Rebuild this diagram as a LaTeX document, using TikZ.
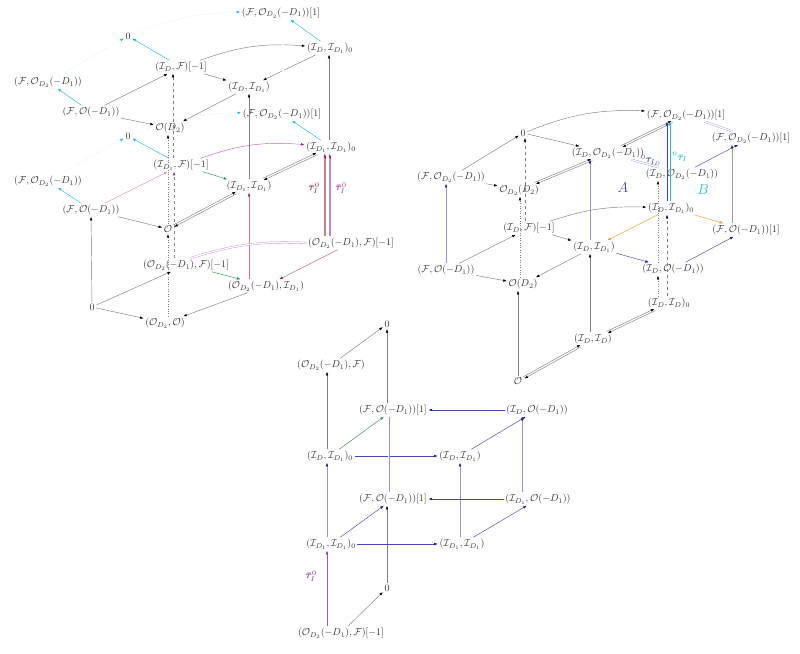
\documentclass[tikz,border=0pt]{standalone}
\usepackage{amsmath,amssymb,bm}
\usetikzlibrary{arrows.meta,calc}
\definecolor{cy}{RGB}{30,190,205}
\definecolor{nv}{RGB}{25,25,140}
\definecolor{bl}{RGB}{70,70,185}
\definecolor{lb}{RGB}{150,150,205}
\definecolor{mr}{RGB}{170,25,45}
\definecolor{pu}{RGB}{150,40,160}
\definecolor{pk}{RGB}{235,140,170}
\definecolor{gn}{RGB}{40,150,80}
\definecolor{og}{RGB}{245,150,50}
\newcommand{\Fc}{\mathcal{F}}
\newcommand{\Oc}{\mathcal{O}}
\newcommand{\Ic}{\mathcal{I}}
\tikzset{
  ob/.style={text=black!80, inner sep=1.5pt},
  ar/.style 2 args={draw=#1, line width=.45pt, -{Latex[length=3.6pt,width=2.6pt,color=#2]}},
  gar/.style={ar={black!50}{black}},
  car/.style={ar={cy}{cy}},
  cdot/.style={ar={cy!45}{cy}, dotted},
  pair/.style={transform canvas={shift={#1}}},
  dbl/.style={draw=#1, double=white, double distance=1.3pt, line width=.35pt},
  thinl/.style={draw=#1, line width=.35pt},
}
\begin{document}
\begin{tikzpicture}[x=1pt,y=-1pt]
\useasboundingbox (0,0) rectangle (800,653);

% ---------------- left block ----------------
\node[ob] (L1) at (281,13) {$(\Fc,\Oc_{D_2}(-D_1))[1]$};
\node[ob] (L2) at (128,36) {$0$};
\node[ob] (L3) at (330,48) {$(\Ic_D,\Ic_{D_1})_0$};
\node[ob] (L4) at (181,67) {$(\Ic_D,\Fc)[-1]$};
\node[ob] (L5) at (48,82) {$(\Fc,\Oc_{D_2}(-D_1))$};
\node[ob] (L6) at (249,87) {$(\Ic_D,\Ic_{D_1})$};
\node[ob] (L7) at (91,112) {$(\Fc,\Oc(-D_1))$};
\node[ob] (L8) at (282,114) {$(\Fc,\Oc_{D_2}(-D_1))[1]$};
\node[ob] (L9) at (170,128) {$\Oc(D_2)$};
\node[ob] (L10) at (128,136) {$0$};
\node[ob] (L11) at (331,147) {$(\Ic_{D_1},\Ic_{D_1})_0$};
\node[ob] (L12) at (181,165) {$(\Ic_{D_1},\Fc)[-1]$};
\node[ob] (L13) at (48,181) {$(\Fc,\Oc_{D_2}(-D_1))$};
\node[ob] (L14) at (249,186) {$(\Ic_{D_1},\Ic_{D_1})$};
\node[ob] (L15) at (91,210) {$(\Fc,\Oc(-D_1))$};
\node[ob] (L16) at (168,229) {$\Oc$};
\node[ob] (L17) at (351,243) {$(\Oc_{D_2}(-D_1),\Fc)[-1]$};
\node[ob] (L18) at (186,265) {$(\Oc_{D_2}(-D_1),\Fc)[-1]$};
\node[ob] (L19) at (266,286) {$(\Oc_{D_2}(-D_1),\Ic_{D_1})$};
\node[ob] (L20) at (92,307) {$0$};
\node[ob] (L21) at (165,323) {$(\Oc_{D_2},\Oc)$};
\node[text=mr, inner sep=0pt] (tL1) at (314,188) {$\bm\tau^0_I$};
\node[text=pu, inner sep=0pt] (tL2) at (341,188) {$\bar{\bm\tau}^0_I$};

\draw[cdot] (L2) to[bend left=10] (L1);
\draw[cdot] (L5) -- (L2);
\draw[car] (L4) -- (L2);
\draw[car] (L7) -- (L5);
\draw[car] (L3) -- (L1);
\draw[gar] (L7) -- (L4);
\draw[gar] (L7) -- (L9);
\draw[gar] (L4) -- (L6);
\draw[gar] (L4) to[bend left=12] (L3);
\draw[gar] (L3) -- (L6);
\draw[gar] (L6) -- (L9);
\draw[dbl=cy] ($(L5.south)+(-15,0)$) -- ($(L13.north)+(-15,0)$);
\draw[dbl=cy] ($(L1.south)+(2,0)$) -- ($(L8.north)+(1,0)$);
\draw[dbl=black!55] (L7.south) -- (L15.north);
\draw[gar] (L14.north) -- (L6.south);
\draw[gar] ($(L11.north)+(-2,0)$) -- ($(L11.north |- L3.south)+(-2,0)$);
\draw[gar, dashed] ($(L12.north)+(-8,0)$) -- ($(L12.north |- L4.south)+(-8,0)$);
\draw[gar, dotted] (L16.north) -- (L16.north |- L9.south);
\draw[gar, dotted] (L21.north -| L16) -- (L16.south);
\draw[ar={black!45}{pu}, dashed] ($(L18.north)+(-12,0)$) -- ($(L18.north |- L12.south)+(-12,0)$);

\draw[cdot] (L13) -- (L10);
\draw[cdot] (L10) to[bend left=10] (L8);
\draw[car] (L15) -- (L13);
\draw[car] (L12) -- (L10);
\draw[car] (L11) -- (L8);
\draw[ar={pk}{pk}] (L15) -- (L12);
\draw[gar] (L15) -- (L16);
\draw[ar={pu!70}{pu}] (L12) to[bend left=12] (L11);
\draw[ar={gn}{gn}] (L12) -- (L14);
\draw[gar, pair={(-0.5pt,0.9pt)}] (L16) -- (L14);
\draw[gar, pair={(0.5pt,-0.9pt)}] (L14) -- (L16);
\draw[gar, pair={(-0.5pt,0.9pt)}] (L14) -- (L11);
\draw[gar, pair={(0.5pt,-0.9pt)}] (L11) -- (L14);

\draw[gar] (L20) -- (L15);
\draw[ar={mr!60}{mr}] (L14.south |- L19.north) -- (L14.south);
% the two parallel maps from the lower right corner up to (I_{D_1},I_{D_1})_0
\coordinate (mA) at ($(L11.south)+(-7,0)$);
\coordinate (mB) at ($(L11.south)+(-2,0)$);
\draw[thinl=mr!55] ($(L17.north)+(-27,0)$) -- ($(mA)+(0,2)$);
\draw[thinl=mr!55] ($(L17.north)+(-25.5,0)$) -- ($(mA)+(1.5,2)$);
\draw[ar={mr}{mr}] ($(mA)+(0.75,5)$) -- ($(mA)+(0.75,0)$);
\draw[thinl=pu!55] ($(L17.north)+(-22,0)$) -- ($(mB)+(0,2)$);
\draw[thinl=pu!55] ($(L17.north)+(-20.5,0)$) -- ($(mB)+(1.5,2)$);
\draw[ar={pu}{pu}] ($(mB)+(0.75,5)$) -- ($(mB)+(0.75,0)$);
\draw[ar={mr!70}{mr}] (L17) -- (L19);
\draw[dbl=pu!55] (L17.west) to[bend right=10] ($(L18.north)+(4,0)$);
\draw[gar] (L20) -- (L18);
\draw[gar] (L20) -- (L21);
\draw[ar={gn}{gn}] (L18) -- (L19);
\draw[gar] (L19) -- (L21);

% ---------------- right block ----------------
\node[ob] (R1) at (686,115) {$(\Fc,\Oc_{D_2}(-D_1))[1]$};
\node[ob] (R2) at (523,133) {$0$};
\node[ob] (R3) at (608,153) {$(\Ic_D,\Oc_{D_2}(-D_1))$};
\node[ob] (R4) at (751,138) {$(\Fc,\Oc_{D_2}(-D_1))[1]$};
\node[ob] (R5) at (451,177) {$(\Fc,\Oc_{D_2}(-D_1))$};
\node[ob] (R6) at (682,174) {$(\Ic_D,\Oc_{D_2}(-D_1))$};
\node[ob] (R7) at (519,190) {$\Oc_{D_2}(D_2)$};
\node[text=bl, inner sep=0pt] (lA) at (623,188) {\Large $A$};
\node[text=cy, inner sep=0pt] (lB) at (703,190) {\Large $B$};
\node[text=bl, inner sep=0pt] (tR1) at (651,160) {${}^0\bm\tau_{I_D}$};
\node[text=cy, inner sep=0pt] (tR2) at (680,157) {${}^0\bar{\bm\tau}_I$};
\node[ob] (R8) at (671,208) {$(\Ic_D,\Ic_{D_1})_0$};
\node[ob] (R9) at (529,228) {$(\Ic_D,\Fc)[-1]$};
\node[ob] (R10) at (746,230) {$(\Fc,\Oc(-D_1))[1]$};
\node[ob] (R11) at (594,247) {$(\Ic_D,\Ic_{D_1})$};
\node[ob] (R12) at (446,270) {$(\Fc,\Oc(-D_1))$};
\node[ob] (R13) at (673,269) {$(\Ic_D,\Oc(-D_1))$};
\node[ob] (R14) at (523,284) {$\Oc(D_2)$};
\node[ob] (R15) at (669,303) {$(\Ic_D,\Ic_D)_0$};
\node[ob] (R16) at (593,339) {$(\Ic_D,\Ic_D)$};
\node[ob] (R17) at (518,381) {$\Oc$};

\draw[gar] (R2) to[bend left=12] (R1);
\draw[gar] (R5) -- (R2);
\draw[gar] (R5) -- (R7);
\draw[gar] (R2) -- (R3);
\draw[gar, pair={(-0.6pt,0.8pt)}] (R3) -- (R1);
\draw[gar, pair={(0.6pt,-0.8pt)}] (R1) -- (R3);
\draw[gar, pair={(-0.6pt,0.8pt)}] (R7) -- (R3);
\draw[gar, pair={(0.6pt,-0.8pt)}] (R3) -- (R7);
\draw[dbl=lb] (R3) -- (R6);
\draw[dbl=lb] (R1) -- (R4);
\draw[ar={bl}{nv}] (R6) -- (R4);
\draw[ar={bl}{nv}] ($(R8.north)+(-4,0)$) -- ($(R8.north |- R1.south)+(-4,0)$);
\draw[car] ($(R8.north)+(-1,0)$) -- ($(R8.north |- R1.south)+(-1,0)$);
\draw[gar, dotted] ($(R13.north)+(-15,0)$) -- ($(R13.north |- R6.south)+(-15,0)$);
\draw[gar, dotted] ($(R15.north)+(-11,0)$) -- ($(R15.north |- R13.south)+(-11,0)$);
\draw[gar, dashed] ($(R15.north)+(-2,0)$) -- ($(R15.north |- R8.south)+(-2,0)$);
\draw[gar, dashed] ($(R9.north)+(-4,0)$) -- ($(R9.north |- R2.south)+(-4,0)$);
\draw[gar, dotted] ($(R14.north)+(-3,0)$) -- ($(R14.north |- R7.south)+(-3,0)$);
\draw[ar={lb}{nv}] (R12.north) -- (R12.north |- R5.south);
\draw[gar] (R12) -- (R9);
\draw[gar] (R12) -- (R14);
\draw[gar] (R9) -- (R11);
\draw[gar] (R9) to[bend left=10] (R8);
\draw[gar] (R11) -- (R14);
\draw[ar={og}{og}] (R8) -- (R11);
\draw[ar={og}{og}] (R8) -- (R10);
\draw[ar={bl}{nv}] (R11) -- (R13);
\draw[ar={bl}{nv}] (R13) -- (R10);
\draw[ar={lb}{nv}] ($(R10.north)+(-14,0)$) -- ($(R10.north |- R4.south)+(-14,0)$);
\draw[ar={lb}{nv}] ($(R11.north)+(-4,0)$) -- ($(R11.north |- R3.south)+(-4,0)$);
\draw[gar] (R17.north) -- (R17.north |- R14.south);
\draw[gar] ($(R16.north)+(-3,0)$) -- ($(R16.north |- R11.south)+(-3,0)$);
\draw[gar, pair={(-0.6pt,0.8pt)}] (R17) -- (R16);
\draw[gar, pair={(0.6pt,-0.8pt)}] (R16) -- (R17);
\draw[gar, pair={(-0.6pt,0.8pt)}] (R16) -- (R15);
\draw[gar, pair={(0.6pt,-0.8pt)}] (R15) -- (R16);

% ---------------- lower block ----------------
\node[ob] (B1) at (387,324) {$0$};
\node[ob] (B2) at (331,365) {$(\Oc_{D_2}(-D_1),\Fc)$};
\node[ob] (B3) at (393,410) {$(\Fc,\Oc(-D_1))[1]$};
\node[ob] (B4) at (537,410) {$(\Ic_D,\Oc(-D_1))$};
\node[ob] (B5) at (330,456) {$(\Ic_D,\Ic_{D_1})_0$};
\node[ob] (B6) at (460,456) {$(\Ic_D,\Ic_{D_1})$};
\node[ob] (B7) at (393,499) {$(\Fc,\Oc(-D_1))[1]$};
\node[ob] (B8) at (538,499) {$(\Ic_{D_1},\Oc(-D_1))$};
\node[ob] (B9) at (331,544) {$(\Ic_{D_1},\Ic_{D_1})_0$};
\node[ob] (B10) at (462,544) {$(\Ic_{D_1},\Ic_{D_1})$};
\node[text=pu, inner sep=0pt] (tB) at (311,576) {$\bar{\bm\tau}^0_I$};
\node[ob] (B11) at (387,588) {$0$};
\node[ob] (B12) at (341,633) {$(\Oc_{D_2}(-D_1),\Fc)[-1]$};

\draw[gar] (B2) -- (B1);
\draw[gar] ($(B3.north)+(-6,0)$) -- (B1.south);
\draw[gar] ($(B5.north)+(-3,0)$) -- ($(B5.north |- B2.south)+(-3,0)$);
\draw[ar={gn}{gn}] (B5) -- (B3);
\draw[ar={bl}{nv}] (B5) -- (B6);
\draw[ar={bl}{nv}] (B4) -- (B3);
\draw[ar={bl}{nv}] (B6) -- (B4);
\draw[ar={lb}{nv}] ($(B8.north)+(-16,0)$) -- ($(B8.north |- B4.south)+(-16,0)$);
\draw[ar={lb}{nv}] (B10.north -| B6) -- (B6.south);
\draw[ar={lb}{nv}] ($(B9.north)+(-4,0)$) -- ($(B9.north |- B5.south)+(-4,0)$);
\draw[dbl=lb] ($(B3.south)+(-4.5,0)$) -- ($(B7.north)+(-4.5,0)$);
\draw[gar] (B11.north) -- (B11.north |- B7.south);
\draw[ar={bl}{nv}] (B9) -- (B7);
\draw[ar={bl}{nv}] (B9) -- (B10);
\draw[ar={bl}{nv}] (B8) -- (B7);
\draw[ar={bl}{nv}] (B10) -- (B8);
\draw[ar={pu!80}{pu}] ($(B12.north)+(-14,0)$) -- ($(B12.north |- B9.south)+(-14,0)$);
\draw[gar] (B12) -- (B11);
\end{tikzpicture}
\end{document}
